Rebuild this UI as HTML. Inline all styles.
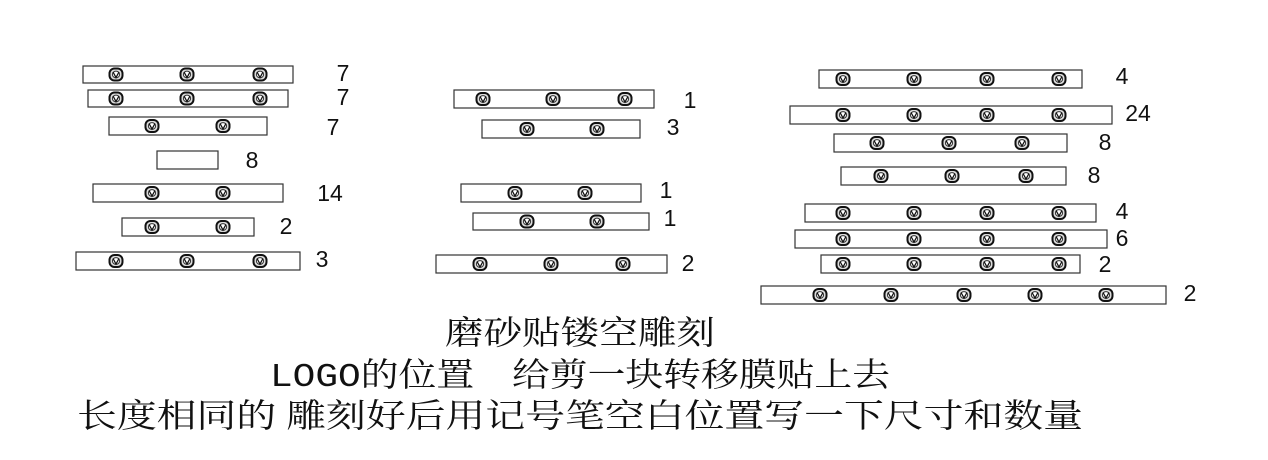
<!DOCTYPE html>
<html><head><meta charset="utf-8"><style>
html,body{margin:0;padding:0;background:#fff;}
svg{display:block}
</style></head><body>
<svg width="1268" height="460" viewBox="0 0 1268 460" xmlns="http://www.w3.org/2000/svg">
<defs>
<g id="lg">
<rect x="-6.5" y="-6" width="13" height="12" rx="5" ry="5" fill="#ddd" stroke="#111" stroke-width="2"/>
<ellipse cx="0" cy="0" rx="3.6" ry="3.4" fill="#fff" stroke="#333" stroke-width="1"/>
<path d="M-3,-2.5 L0,3 L3,-2.5" fill="none" stroke="#111" stroke-width="1.3"/>
</g>
</defs>
<g fill="#fff" stroke="#333" stroke-width="1.2">
<rect x="83" y="66" width="210" height="17"/>
<rect x="88" y="90" width="200" height="17"/>
<rect x="109" y="117" width="158" height="18"/>
<rect x="157" y="151" width="61" height="18"/>
<rect x="93" y="184" width="190" height="18"/>
<rect x="122" y="218" width="132" height="18"/>
<rect x="76" y="252" width="224" height="18"/>
<rect x="454" y="90" width="200" height="18"/>
<rect x="482" y="120" width="158" height="18"/>
<rect x="461" y="184" width="180" height="18"/>
<rect x="473" y="213" width="176" height="17"/>
<rect x="436" y="255" width="231" height="18"/>
<rect x="819" y="70" width="263" height="18"/>
<rect x="790" y="106" width="322" height="18"/>
<rect x="834" y="134" width="233" height="18"/>
<rect x="841" y="167" width="225" height="18"/>
<rect x="805" y="204" width="291" height="18"/>
<rect x="795" y="230" width="312" height="18"/>
<rect x="821" y="255" width="259" height="18"/>
<rect x="761" y="286" width="405" height="18"/>
</g>
<use href="#lg" x="116" y="74.5"/><use href="#lg" x="187" y="74.5"/><use href="#lg" x="260" y="74.5"/>
<use href="#lg" x="116" y="98.5"/><use href="#lg" x="187" y="98.5"/><use href="#lg" x="260" y="98.5"/>
<use href="#lg" x="152" y="126"/><use href="#lg" x="223" y="126"/>
<use href="#lg" x="152" y="193"/><use href="#lg" x="223" y="193"/>
<use href="#lg" x="152" y="227"/><use href="#lg" x="223" y="227"/>
<use href="#lg" x="116" y="261"/><use href="#lg" x="187" y="261"/><use href="#lg" x="260" y="261"/>

<use href="#lg" x="483" y="99"/><use href="#lg" x="553" y="99"/><use href="#lg" x="625" y="99"/>
<use href="#lg" x="527" y="129"/><use href="#lg" x="597" y="129"/>
<use href="#lg" x="515" y="193"/><use href="#lg" x="585" y="193"/>
<use href="#lg" x="527" y="221.5"/><use href="#lg" x="597" y="221.5"/>
<use href="#lg" x="480" y="264"/><use href="#lg" x="551" y="264"/><use href="#lg" x="623" y="264"/>

<use href="#lg" x="843" y="79"/><use href="#lg" x="914" y="79"/><use href="#lg" x="987" y="79"/><use href="#lg" x="1059" y="79"/>
<use href="#lg" x="843" y="115"/><use href="#lg" x="914" y="115"/><use href="#lg" x="987" y="115"/><use href="#lg" x="1059" y="115"/>
<use href="#lg" x="877" y="143"/><use href="#lg" x="949" y="143"/><use href="#lg" x="1022" y="143"/>
<use href="#lg" x="881" y="176"/><use href="#lg" x="952" y="176"/><use href="#lg" x="1026" y="176"/>
<use href="#lg" x="843" y="213"/><use href="#lg" x="914" y="213"/><use href="#lg" x="987" y="213"/><use href="#lg" x="1059" y="213"/>
<use href="#lg" x="843" y="239"/><use href="#lg" x="914" y="239"/><use href="#lg" x="987" y="239"/><use href="#lg" x="1059" y="239"/>
<use href="#lg" x="843" y="264"/><use href="#lg" x="914" y="264"/><use href="#lg" x="987" y="264"/><use href="#lg" x="1059" y="264"/>
<use href="#lg" x="820" y="295"/><use href="#lg" x="891" y="295"/><use href="#lg" x="964" y="295"/><use href="#lg" x="1035" y="295"/><use href="#lg" x="1106" y="295"/>

<g font-family="Liberation Sans, sans-serif" font-size="23" fill="#111" text-anchor="middle">
<text x="343" y="81">7</text>
<text x="343" y="105">7</text>
<text x="333" y="135">7</text>
<text x="252" y="168">8</text>
<text x="330" y="201">14</text>
<text x="286" y="234">2</text>
<text x="322" y="267">3</text>
<text x="690" y="108">1</text>
<text x="673" y="135">3</text>
<text x="666" y="198">1</text>
<text x="670" y="226">1</text>
<text x="688" y="271">2</text>
<text x="1122" y="84">4</text>
<text x="1138" y="121">24</text>
<text x="1105" y="150">8</text>
<text x="1094" y="183">8</text>
<text x="1122" y="219">4</text>
<text x="1122" y="246">6</text>
<text x="1105" y="272">2</text>
<text x="1190" y="301">2</text>
</g>
<g font-family="Liberation Serif, 'Noto Serif CJK SC', serif" font-size="33" fill="#111">
<text x="445" y="344" textLength="270" lengthAdjust="spacingAndGlyphs">磨砂贴镂空雕刻</text>
<text x="270" y="386" textLength="620" lengthAdjust="spacingAndGlyphs"><tspan font-family="Liberation Mono, monospace">LOGO</tspan>的位置　给剪一块转移膜贴上去</text>
<text x="77" y="427" textLength="1006" lengthAdjust="spacingAndGlyphs">长度相同的 雕刻好后用记号笔空白位置写一下尺寸和数量</text>
</g>
</svg>
</body></html>
